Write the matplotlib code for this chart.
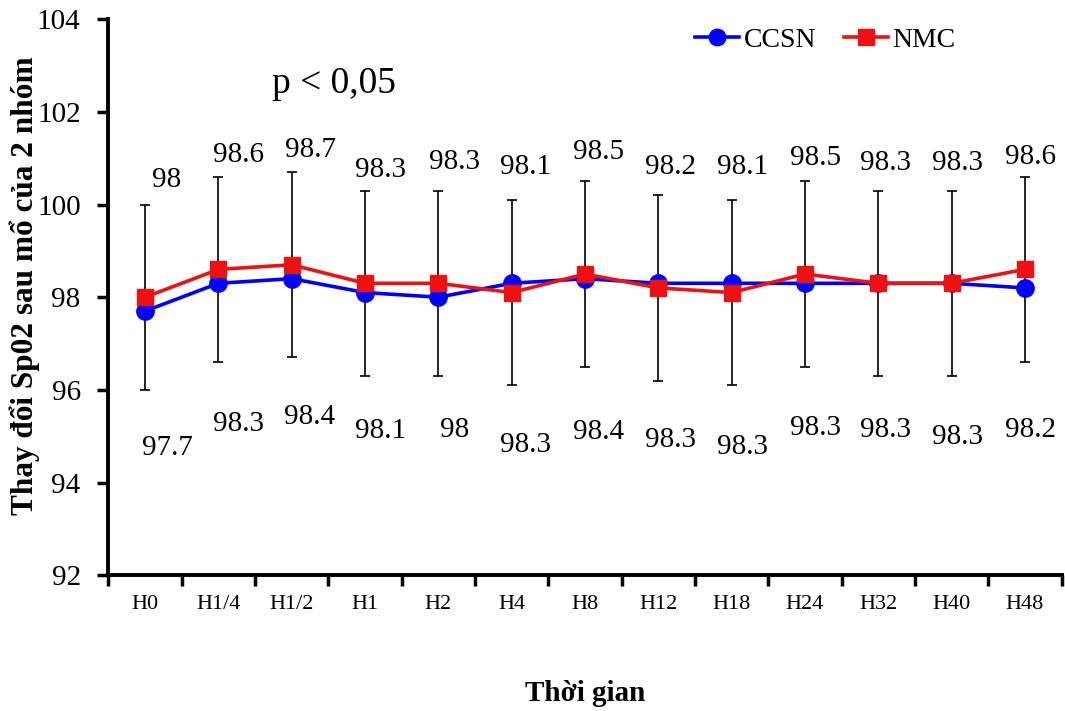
import numpy as np
import matplotlib.pyplot as plt

plt.rcParams['font.family'] = ['Liberation Serif', 'DejaVu Serif']

times = ['H0', 'H1/4', 'H1/2', 'H1', 'H2', 'H4', 'H8', 'H12', 'H18', 'H24', 'H32', 'H40', 'H48']
ccsn = [97.7, 98.3, 98.4, 98.1, 98.0, 98.3, 98.4, 98.3, 98.3, 98.3, 98.3, 98.3, 98.2]
nmc = [98.0, 98.6, 98.7, 98.3, 98.3, 98.1, 98.5, 98.2, 98.1, 98.5, 98.3, 98.3, 98.6]
nmc_sd = [2.0] * 13
ccsn_labels = ['97.7', '98.3', '98.4', '98.1', '98', '98.3', '98.4', '98.3', '98.3', '98.3', '98.3', '98.3', '98.2']
nmc_labels = ['98', '98.6', '98.7', '98.3', '98.3', '98.1', '98.5', '98.2', '98.1', '98.5', '98.3', '98.3', '98.6']

# label placement (distance from error bar ends, hand-placed in the original)
up_gap = [0.53, 0.46, 0.47, 0.44, 0.61, 0.71, 0.63, 0.61, 0.71, 0.5, 0.59, 0.59, 0.42]
low_gap = [1.26, 1.34, 1.29, 1.19, 1.17, 1.29, 1.41, 1.29, 1.34, 1.33, 1.17, 1.32, 1.47]
dx = [0.3, 0.27, 0.25, 0.21, 0.22, 0.19, 0.18, 0.16, 0.15, 0.15, 0.1, 0.08, 0.08]

x = np.arange(len(times))

fig = plt.figure(figsize=(10.65, 7.11), dpi=100)
ax = fig.add_axes([0.1018, 0.191, 0.895, 0.782])

ax.errorbar(x, nmc, yerr=nmc_sd, fmt='none', ecolor='black', elinewidth=1.2,
            capsize=3.5, capthick=1.2, zorder=1)
ax.plot(x, ccsn, color='#0000ff', lw=2.6, marker='o', ms=12.5, label='CCSN', zorder=3)
ax.plot(x, nmc, color='#ee1111', lw=2.6, marker='s', ms=11.5, label='NMC', zorder=4)

for i in range(len(times)):
    ax.text(x[i] + dx[i], nmc[i] + nmc_sd[i] + up_gap[i], nmc_labels[i],
            ha='center', va='center', fontsize=21)
    ax.text(x[i] + dx[i], nmc[i] - nmc_sd[i] - low_gap[i], ccsn_labels[i],
            ha='center', va='center', fontsize=21)

ax.text(2.57, 102.6, 'p < 0,05', fontsize=27, ha='center', va='center')

ax.set_xlim(-0.5, len(times) - 0.5)
ax.set_ylim(92, 104)
ax.set_yticks(np.arange(92, 105, 2))
ax.tick_params(axis='y', labelsize=21, width=2.5, length=8, direction='out', pad=12)
ax.set_xticks(x)
ax.set_xticklabels(times, fontsize=16)
ax.set_xticks(np.arange(-0.5, len(times) + 0.5, 1), minor=True)
ax.tick_params(axis='x', which='major', length=0, pad=14)
ax.tick_params(axis='x', which='minor', length=8, width=2.5, direction='out')

for s in ['top', 'right']:
    ax.spines[s].set_visible(False)
for s in ['left', 'bottom']:
    ax.spines[s].set_linewidth(2.8)

ax.set_ylabel('Thay đổi Sp02 sau mổ của 2 nhóm', fontsize=22.5, fontweight='bold')
ax.yaxis.set_label_coords(-0.072, 0.52)
ax.set_xlabel('Thời gian', fontsize=21, fontweight='bold', labelpad=48)

ax.legend(loc='upper right', bbox_to_anchor=(0.915, 1.03), ncol=2, frameon=False,
          fontsize=20, handlelength=1.6, handletextpad=0.15, columnspacing=1.0,
          markerscale=0.95)

fig.savefig('out.png', dpi=100)
